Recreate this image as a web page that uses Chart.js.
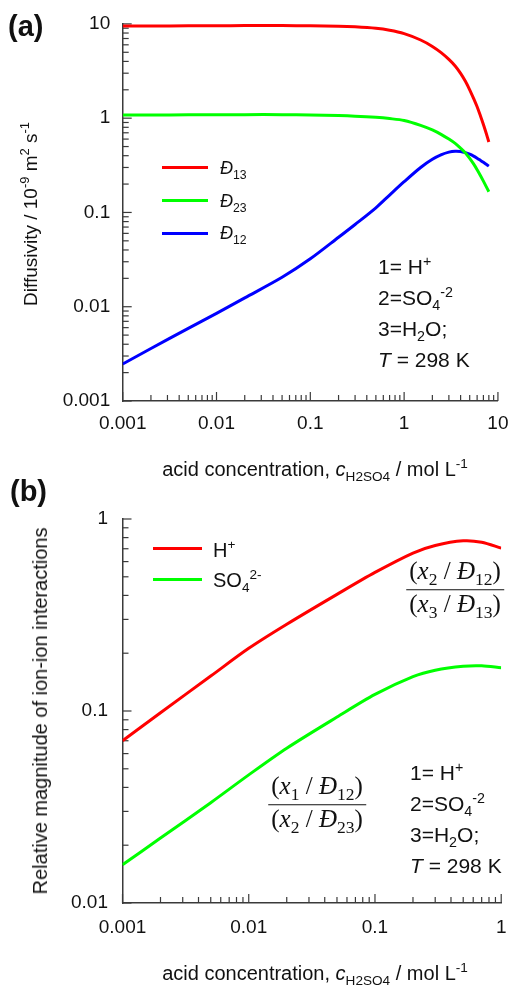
<!DOCTYPE html>
<html>
<head>
<meta charset="utf-8">
<script src="https://cdn.jsdelivr.net/npm/chart.js@4.4.1/dist/chart.umd.min.js"></script>
<style>
body { margin: 0; background: #fff; }
#wrap { position: relative; width: 520px; height: 990px; overflow: hidden;
        font-family: "Liberation Sans", Arial, sans-serif; color: #111; }
canvas { position: absolute; left: 0; }
.t { position: absolute; white-space: nowrap; line-height: 1; }
.c { transform: translate(-50%, -50%); }
.rot { transform: translate(-50%, -50%) rotate(-90deg); }
.t sub, .t sup { font-size: 68%; line-height: 0; }
.sw { position: absolute; height: 3px; }
.frac { position: absolute; font-family: "Liberation Serif", "Times New Roman", serif; font-size: 25px;
        text-align: center; transform: translate(-50%, -50%); line-height: 1.15; white-space: nowrap; }
.frac .n { border-bottom: 1.3px solid #111; padding: 0 3px 3px; }
.frac sub { font-size: 70%; line-height: 0; }
.note { font-size: 21px; line-height: 31px; }
</style>
</head>
<body>
<div id="wrap">
  <canvas id="chartA" width="520" height="470" style="top:0"></canvas>
  <canvas id="chartB" width="520" height="520" style="top:470px"></canvas>

  <!-- panel (a) texts -->
  <div class="t" style="left:8px;top:12px;font-size:29px;font-weight:bold">(a)</div>
  <div class="t rot" style="left:30px;top:214px;font-size:19px">Diffusivity / 10<sup>-9</sup> m<sup>2</sup> s<sup>-1</sup></div>
  <div class="t c" style="left:315px;top:469px;font-size:20px">acid concentration, <i>c</i><sub>H2SO4</sub> / mol L<sup>-1</sup></div>

  <div class="sw" style="left:162px;top:166px;width:46px;background:#ff0000"></div>
  <div class="sw" style="left:162px;top:199px;width:46px;background:#00ff00"></div>
  <div class="sw" style="left:162px;top:232px;width:46px;background:#0000ff"></div>
  <div class="t" style="left:220px;top:159px;font-size:18px"><i>Đ</i><sub>13</sub></div>
  <div class="t" style="left:220px;top:192px;font-size:18px"><i>Đ</i><sub>23</sub></div>
  <div class="t" style="left:220px;top:224px;font-size:18px"><i>Đ</i><sub>12</sub></div>

  <div class="t note" style="left:378px;top:251px">1= H<sup>+</sup><br>2=SO<sub>4</sub><sup>-2</sup><br>3=H<sub>2</sub>O;<br><i>T</i> = 298 K</div>

  <!-- panel (b) texts -->
  <div class="t" style="left:10px;top:477px;font-size:29px;font-weight:bold">(b)</div>
  <div class="t rot" style="left:40px;top:711px;font-size:20px">Relative magnitude of ion-ion interactions</div>
  <div class="t c" style="left:315px;top:973px;font-size:20px">acid concentration, <i>c</i><sub>H2SO4</sub> / mol L<sup>-1</sup></div>

  <div class="sw" style="left:153px;top:547px;width:49px;background:#ff0000"></div>
  <div class="sw" style="left:153px;top:578px;width:49px;background:#00ff00"></div>
  <div class="t" style="left:213px;top:540px;font-size:20px">H<sup>+</sup></div>
  <div class="t" style="left:213px;top:570px;font-size:20px">SO<sub>4</sub><sup>2-</sup></div>

  <div class="frac" style="left:455px;top:588px"><div class="n">(<i>x</i><sub>2</sub> / <i>Đ</i><sub>12</sub>)</div><div>(<i>x</i><sub>3</sub> / <i>Đ</i><sub>13</sub>)</div></div>
  <div class="frac" style="left:317px;top:803px"><div class="n">(<i>x</i><sub>1</sub> / <i>Đ</i><sub>12</sub>)</div><div>(<i>x</i><sub>2</sub> / <i>Đ</i><sub>23</sub>)</div></div>

  <div class="t note" style="left:410px;top:757px">1= H<sup>+</sup><br>2=SO<sub>4</sub><sup>-2</sup><br>3=H<sub>2</sub>O;<br><i>T</i> = 298 K</div>
</div>

<script>
// ---- panel (a): Maxwell-Stefan diffusivities vs acid concentration ----
const concA = [0.001, 0.002, 0.005, 0.01, 0.02, 0.05, 0.1, 0.2, 0.3, 0.5, 0.7, 1,
               1.5, 2, 2.5, 3, 3.5, 4, 4.5, 5, 5.5, 6, 6.5, 7, 7.5, 8];
const d13 = [9.5, 9.5, 9.55, 9.55, 9.6, 9.6, 9.55, 9.45, 9.3, 8.97, 8.56, 7.88,
             6.75, 5.77, 4.93, 4.2, 3.58, 2.99, 2.46, 2.0, 1.62, 1.32, 1.06, 0.857, 0.692, 0.559];
const d23 = [1.08, 1.08, 1.085, 1.09, 1.09, 1.09, 1.08, 1.065, 1.05, 1.02, 0.99, 0.945,
             0.84, 0.75, 0.67, 0.60, 0.54, 0.48, 0.428, 0.375, 0.327, 0.284, 0.247, 0.215, 0.188, 0.166];
const d12 = [0.00247, 0.0036, 0.0059, 0.0085, 0.0124, 0.0205, 0.0322, 0.0545, 0.0745, 0.112, 0.153, 0.212,
             0.30, 0.366, 0.41, 0.436, 0.446, 0.443, 0.431, 0.415, 0.396, 0.376, 0.357, 0.340, 0.324, 0.31];
const xMajorA = [0.001, 0.01, 0.1, 1, 10];
const yMajorA = [0.001, 0.01, 0.1, 1, 10];

// ---- panel (b): relative magnitude of ion-ion interactions ----
const concB = [0.001, 0.002, 0.005, 0.01, 0.02, 0.05, 0.1, 0.2, 0.3, 0.5, 0.7, 1];
const hPlus = [0.070, 0.098, 0.152, 0.212, 0.283, 0.405, 0.527, 0.665, 0.728, 0.77, 0.757, 0.705];
const so4 = [0.0158, 0.0218, 0.0333, 0.0465, 0.064, 0.093, 0.122, 0.151, 0.163, 0.171, 0.172, 0.168];
const xMajorB = [0.001, 0.01, 0.1, 1];
const yMajorB = [0.01, 0.1, 1];

Chart.defaults.font.family = '"Liberation Sans", Arial, sans-serif';
Chart.defaults.color = '#111';

const AXIS = '#3a3a3a';

// 1..9 x 10^n between the decade labels
function withMinors(majors) {
    const out = [];
    majors.forEach((m, i) => {
        out.push(m);
        if (i < majors.length - 1) for (let k = 2; k <= 9; k++) out.push(m * k);
    });
    return out;
}

// tick marks point into the plot, like the original
const inwardTicks = {
    id: 'inwardTicks',
    beforeDatasetsDraw(chart, args, opts) {
        const { ctx, chartArea, scales } = chart;
        ctx.save();
        ctx.strokeStyle = AXIS;
        ctx.lineWidth = 1.2;
        scales.x.ticks.forEach(t => {
            const px = scales.x.getPixelForValue(t.value);
            const len = opts.xMajors.includes(t.value) ? 9 : 6;
            ctx.beginPath();
            ctx.moveTo(px, chartArea.bottom);
            ctx.lineTo(px, chartArea.bottom - len);
            ctx.stroke();
        });
        scales.y.ticks.forEach(t => {
            const py = scales.y.getPixelForValue(t.value);
            const len = opts.yMajors.includes(t.value) ? 9 : 6;
            ctx.beginPath();
            ctx.moveTo(chartArea.left, py);
            ctx.lineTo(chartArea.left + len, py);
            ctx.stroke();
        });
        ctx.restore();
    }
};

function series(xs, ys, color) {
    return {
        data: xs.map((x, i) => ({ x: x, y: ys[i] })),
        borderColor: color,
        borderWidth: 3,
        pointRadius: 0,
        tension: 0.3,
        fill: false
    };
}

function logAxis(min, max, majors, fit, pad) {
    return {
        type: 'logarithmic',
        min: min,
        max: max,
        afterBuildTicks: s => { s.ticks = withMinors(majors).map(v => ({ value: v })); },
        afterFit: fit,
        grid: { display: false, drawTicks: false },
        border: { display: true, color: AXIS, width: 1.5 },
        ticks: {
            autoSkip: false,
            maxRotation: 0,
            padding: pad,
            color: '#111',
            font: { size: 19 },
            callback: v => majors.includes(v) ? String(v) : ''
        }
    };
}

function makeChart(id, datasets, xAx, yAx, padding, xMajors, yMajors) {
    return new Chart(document.getElementById(id), {
        type: 'line',
        data: { datasets: datasets },
        options: {
            responsive: false,
            animation: false,
            layout: { padding: padding },
            scales: { x: xAx, y: yAx },
            plugins: {
                legend: { display: false },
                tooltip: { enabled: false },
                inwardTicks: { xMajors: xMajors, yMajors: yMajors }
            }
        },
        plugins: [inwardTicks]
    });
}

makeChart('chartA',
    [series(concA, d13, '#ff0000'), series(concA, d23, '#00ff00'), series(concA, d12, '#0000ff')],
    logAxis(0.001, 10, xMajorA, s => { s.height = 69; }, 11.5),
    logAxis(0.001, 10, yMajorA, s => { s.width = 122.7; }, 12.5),
    { left: 0, right: 10, top: 16, bottom: 0 },
    xMajorA, yMajorA);

makeChart('chartB',
    [series(concB, hPlus, '#ff0000'), series(concB, so4, '#00ff00')],
    logAxis(0.001, 1, xMajorB, s => { s.height = 87; }, 13.5),
    logAxis(0.01, 1, yMajorB, s => { s.width = 122.5; }, 14.5),
    { left: 0, right: 11, top: 49, bottom: 0 },
    xMajorB, yMajorB);
</script>
</body>
</html>
